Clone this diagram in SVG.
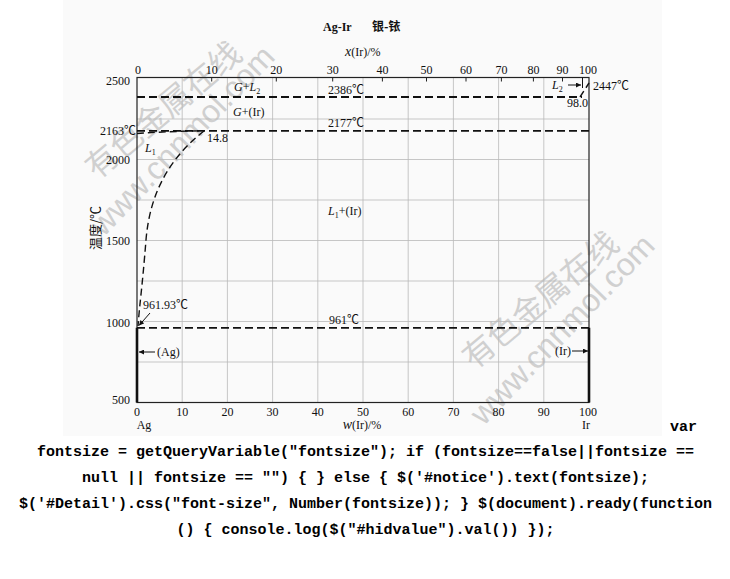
<svg xmlns="http://www.w3.org/2000/svg" width="730" height="579" viewBox="0 0 730 579">
<defs>
<style>
.t{font-family:"Liberation Serif","Noto Sans CJK SC",serif;font-size:12px;fill:#111}
.cn{font-family:"Noto Sans CJK SC",sans-serif}
.grid{stroke:#b9b9b9;stroke-width:0.8;fill:none}
.dash{stroke:#111;stroke-width:1.8;stroke-dasharray:8 4;fill:none}
.curve{stroke:#111;stroke-width:1.4;stroke-dasharray:7 4;fill:none}
.lead{stroke:#111;stroke-width:1;fill:none}
.code{font-family:"Liberation Mono",monospace;font-weight:bold;font-size:15px;fill:#000}
.wm{font-family:"Noto Sans CJK SC",sans-serif;fill:#d0d0d0;font-size:32px}
.wm2{font-family:"Liberation Sans",sans-serif;fill:#d0d0d0;font-size:32px}
</style>
<marker id="ah" viewBox="0 0 10 10" refX="10" refY="5" markerWidth="6" markerHeight="5" orient="auto"><path d="M0,0L10,5L0,10z" fill="#111"/></marker>
</defs>
<rect x="63" y="0" width="599" height="436" fill="#fafafa"/>
<g id="watermarks">
<text class="wm" transform="translate(165,112) rotate(-40)" text-anchor="middle" dominant-baseline="middle">有色金属在线</text>
<text class="wm2" transform="translate(184,142) rotate(-46)" text-anchor="middle" dominant-baseline="middle">www.cnnmol.com</text>
<text class="wm" transform="translate(542,302) rotate(-40)" text-anchor="middle" dominant-baseline="middle">有色金属在线</text>
<text class="wm2" transform="translate(564,331) rotate(-46)" text-anchor="middle" dominant-baseline="middle">www.cnnmol.com</text>
</g>
<g id="grid">
<path class="grid" d="M182.2,77.5V402.5M227.4,77.5V402.5M272.6,77.5V402.5M317.8,77.5V402.5M363,77.5V402.5M408.2,77.5V402.5M453.4,77.5V402.5M498.6,77.5V402.5M543.8,77.5V402.5"/>
<path class="grid" d="M137,119H589M137,159.5H589M137,200H589M137,240.5H589M137,281H589M137,321.5H589M137,362H589"/>
</g>
<g id="frame">
<rect x="137" y="77.5" width="452" height="325" fill="none" stroke="#222" stroke-width="1.2"/>
<path d="M137,327.8V402.5M589,327.8V402.5" stroke="#111" stroke-width="2.6" fill="none"/>
<path d="M211.7,77.5v4M276.3,77.5v4M332.7,77.5v4M382.4,77.5v4M426.5,77.5v4M466,77.5v4M501.4,77.5v4M533.4,77.5v4M562.5,77.5v4" stroke="#222" stroke-width="1" fill="none"/>
</g>
<g id="title">
<text class="t" x="323" y="31" font-weight="bold" font-size="14">Ag-Ir</text>
<text class="t cn" x="372" y="31" font-weight="bold" font-size="13">银-铱</text>
<text class="t" x="345" y="56"><tspan font-style="italic" font-size="14">x</tspan>(Ir)/%</text>
</g>
<g id="top-axis" class="t" text-anchor="middle">
<text x="138" y="74">0</text><text x="211.7" y="74">10</text><text x="276.3" y="74">20</text><text x="332.7" y="74">30</text><text x="382.4" y="74">40</text><text x="426.5" y="74">50</text><text x="466" y="74">60</text><text x="501.4" y="74">70</text><text x="533.4" y="74">80</text><text x="562.5" y="74">90</text><text x="588" y="74">100</text>
</g>
<g id="left-axis" class="t" text-anchor="end">
<text x="130" y="85">2500</text><text x="130" y="163.5">2000</text><text x="130" y="244.5">1500</text><text x="130" y="327">1000</text><text x="130" y="403.5">500</text>
<text x="96" y="228" transform="rotate(-90 96 228)" text-anchor="middle" dominant-baseline="middle" class="cn" font-size="13">温度/℃</text>
</g>
<g id="bottom-axis" class="t" text-anchor="middle">
<text x="137" y="416">0</text><text x="182.2" y="416">10</text><text x="227.4" y="416">20</text><text x="272.6" y="416">30</text><text x="317.8" y="416">40</text><text x="363" y="416">50</text><text x="408.2" y="416">60</text><text x="453.4" y="416">70</text><text x="498.6" y="416">80</text><text x="543.8" y="416">90</text><text x="588" y="416">100</text>
<text x="144" y="429">Ag</text><text x="586" y="429">Ir</text>
<text x="362" y="429"><tspan font-style="italic" font-size="14">w</tspan>(Ir)/%</text>
</g>
<g id="connectors">
<path class="dash" d="M137,97H582"/>
<path class="dash" d="M137,130.8H589"/>
<path class="dash" d="M137,327.8H589"/>
<path class="curve" d="M137,133.5Q170,131.2 204,130.8"/>
<path class="curve" d="M204,131C172,156 150,190 146,240S140,300 138,326"/>
<path class="curve" stroke-dasharray="5 3" d="M580,97L589,83"/>
<path class="lead" d="M582.5,77.5V88"/>
<line class="lead" x1="568" y1="85" x2="581" y2="85" marker-end="url(#ah)"/>
<line class="lead" x1="150" y1="313" x2="139" y2="325.5" marker-end="url(#ah)"/>
<line class="lead" x1="155" y1="352" x2="139" y2="352" marker-end="url(#ah)"/>
<line class="lead" x1="572" y1="351" x2="588" y2="351" marker-end="url(#ah)"/>
</g>
<g id="labels" class="t">
<text x="234" y="91"><tspan font-style="italic">G</tspan>+<tspan font-style="italic">L</tspan><tspan font-size="8" dy="3">2</tspan></text>
<text x="233" y="116"><tspan font-style="italic">G</tspan>+(Ir)</text>
<text x="328" y="94">2386℃</text>
<text x="328" y="127">2177℃</text>
<text x="136" y="135" text-anchor="end">2163℃</text>
<text x="207" y="142">14.8</text>
<text x="145" y="152"><tspan font-style="italic">L</tspan><tspan font-size="8" dy="3">1</tspan></text>
<text x="328" y="215"><tspan font-style="italic">L</tspan><tspan font-size="8" dy="3">1</tspan><tspan dy="-3">+(Ir)</tspan></text>
<text x="552" y="89"><tspan font-style="italic">L</tspan><tspan font-size="8" dy="3">2</tspan></text>
<text x="593" y="90">2447℃</text>
<text x="567" y="107">98.0</text>
<text x="143" y="309">961.93℃</text>
<text x="329" y="324">961℃</text>
<text x="157" y="356">(Ag)</text>
<text x="555" y="355">(Ir)</text>
</g>
<g id="code" class="code" text-anchor="middle">
<text x="683.5" y="431">var</text>
<text x="365.5" y="456">fontsize = getQueryVariable("fontsize"); if (fontsize==false||fontsize ==</text>
<text x="365.5" y="482">null || fontsize == "") { } else { $('#notice').text(fontsize);</text>
<text x="365.5" y="508">$('#Detail').css("font-size", Number(fontsize)); } $(document).ready(function</text>
<text x="365.5" y="534">() { console.log($("#hidvalue").val()) });</text>
</g>
</svg>
